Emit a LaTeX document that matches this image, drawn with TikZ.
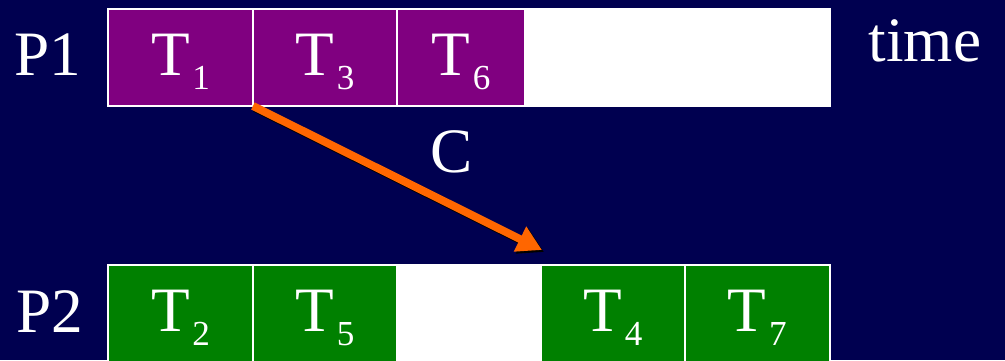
\documentclass[tikz,border=0pt]{standalone}
\usepackage{fontspec}
\setmainfont{Liberation Serif}
\usepackage{xcolor}
\usetikzlibrary{arrows.meta,positioning}
\definecolor{navy}{HTML}{000050}
\definecolor{procA}{HTML}{800080}
\definecolor{procB}{HTML}{008000}
\definecolor{msg}{HTML}{FF6600}
\newcommand{\task}[1]{T\kern1.5pt\raisebox{-8pt}{\fontsize{20}{20}\selectfont #1}}

\begin{document}
\begin{tikzpicture}[
  x=0.02cm, y=-0.02cm,
  font=\fontsize{36}{40}\selectfont,
  tbox/.style={draw=white, line width=1.1pt, outer sep=0pt, minimum height=1.94cm, text=white, text height=28pt, text depth=8pt, inner sep=0pt},
  idle/.style={tbox, fill=white},
  lbl/.style={text=white, inner sep=0pt},
  arr/.style={-{Triangle[length=14pt,width=15pt]}, line width=4.5pt}
]
  \fill[navy] (0,0) rectangle (1005,360);
  \useasboundingbox (0,0) rectangle (1005,360);
  % processor P1
  \node[tbox, fill=procA, minimum width=2.9cm, anchor=north west] (t1) at (108,9) {\task{1}};
  \node[tbox, fill=procA, minimum width=2.88cm, right=0pt of t1] (t3) {\task{3}};
  \node[tbox, fill=procA, minimum width=2.56cm, right=0pt of t3] (t6) {\task{6}};
  \node[idle, minimum width=6.1cm, right=0pt of t6] (idle1) {};
  % processor P2
  \node[tbox, fill=procB, minimum width=2.9cm, anchor=north west] (t2) at (108,265) {\task{2}};
  \node[tbox, fill=procB, minimum width=2.88cm, right=0pt of t2] (t5) {\task{5}};
  \node[idle, minimum width=2.88cm, right=0pt of t5] (idle2) {};
  \node[tbox, fill=procB, minimum width=2.88cm, right=0pt of idle2] (t4) {\task{4}};
  \node[tbox, fill=procB, minimum width=2.9cm, right=0pt of t4] (t7) {\task{7}};
  % labels
  \node[lbl] (p1) at (48,55) {P1};
  \node[lbl] (p2) at (50,312) {P2};
  \node[lbl] (time) at (925,41) {time};
  \node[lbl] (comm) at (452,152) {C};
  % communication
  \coordinate (cend) at (542,250);
  \draw[arr, black] ([shift={(2,2)}]t1.south east) -- ([shift={(2,2)}]cend);
  \draw[arr, msg] (t1.south east) -- (cend);
\end{tikzpicture}
\end{document}
